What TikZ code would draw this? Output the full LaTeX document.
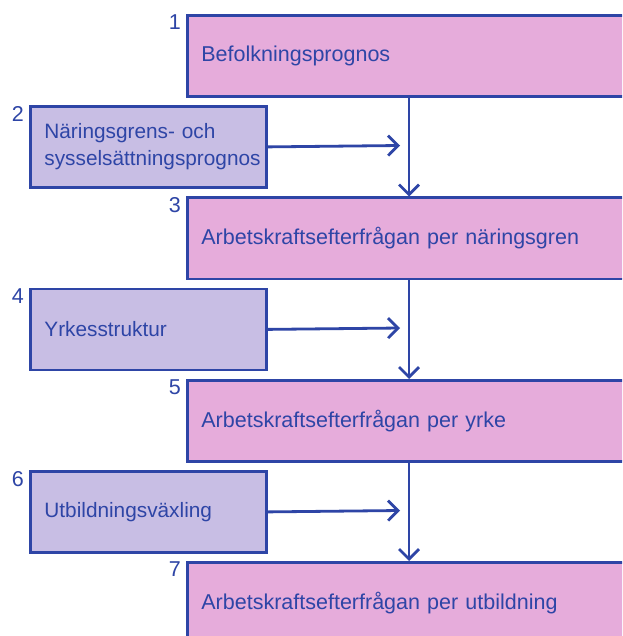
\documentclass[tikz,border=0pt]{standalone}
\usepackage{fontspec}
\setmainfont{Liberation Sans}
\usetikzlibrary{arrows.meta}
\definecolor{lineblue}{HTML}{2E45A6}
\definecolor{pinkfill}{HTML}{E6ACDB}
\definecolor{purplefill}{HTML}{C8BEE4}
\tikzset{
  x=1pt, y=-1pt,
  every node/.style={font=\fontsize{21.5}{27}\selectfont, text=lineblue},
  pinkbox/.style={draw=lineblue, line width=2.8pt, fill=pinkfill, anchor=north west,
    minimum height=81pt, text width=432pt, inner xsep=14pt, align=left},
  purplebox/.style={draw=lineblue, line width=2.8pt, fill=purplefill, anchor=north west,
    minimum height=81pt, text width=208pt, inner xsep=14pt, align=left,
    font=\fontsize{20.8}{27}\selectfont},
  numlabel/.style={anchor=north east, inner sep=0pt},
  conn/.style={draw=lineblue, line width=2.8pt, -{Straight Barb[length=10pt, width=20pt, line width=2.8pt]}}
}
\begin{document}
\begin{tikzpicture}
\useasboundingbox (0,0) rectangle (622,636);
\clip (0,0) rectangle (622,636);
\fill[white] (0,0) rectangle (622,636);

\node[pinkbox] (b1) at (186,14) {Befolkningsprognos};
\node[purplebox] (b2) at (29,105) {Näringsgrens- och\\sysselsättningsprognos};
\node[pinkbox] (b3) at (186,196.5) {Arbetskraftsefterfrågan per näringsgren};
\node[purplebox] (b4) at (29,287.5) {Yrkesstruktur};
\node[pinkbox] (b5) at (186,379) {Arbetskraftsefterfrågan per yrke};
\node[purplebox] (b6) at (29,470) {Utbildningsväxling};
\node[pinkbox] (b7) at (186,561) {Arbetskraftsefterfrågan per utbildning};

\node[numlabel] (n1) at (181,15) {1};
\node[numlabel] (n2) at (24,106) {2};
\node[numlabel] (n3) at (181,197.5) {3};
\node[numlabel] (n4) at (24,288.5) {4};
\node[numlabel] (n5) at (181,380) {5};
\node[numlabel] (n6) at (24,471) {6};
\node[numlabel] (n7) at (181,562) {7};

\coordinate (t2) at (400,145.5);
\coordinate (t4) at (400,328);
\coordinate (t6) at (400,510.5);
\draw[conn] (b2.east) -- (t2);
\draw[conn] (b4.east) -- (t4);
\draw[conn] (b6.east) -- (t6);

\draw[conn] (b1.south -| 409,0) -- (b3.north -| 409,0);
\draw[conn] (b3.south -| 409,0) -- (b5.north -| 409,0);
\draw[conn] (b5.south -| 409,0) -- (b7.north -| 409,0);
\end{tikzpicture}
\end{document}
